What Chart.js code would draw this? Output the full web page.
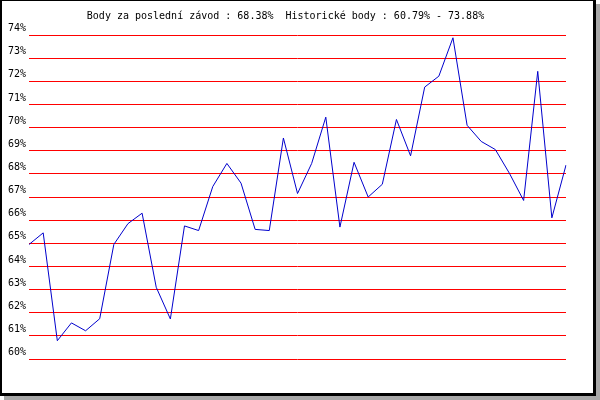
<!DOCTYPE html>
<html>
<head>
<meta charset="utf-8">
<script src="https://cdn.jsdelivr.net/npm/chart.js@4/dist/chart.umd.min.js"></script>
<style>
    html, body { margin: 0; padding: 0; background: #fff; }
    #wrap { position: relative; width: 600px; height: 400px; overflow: hidden; }
    #frame {
        position: absolute; left: 0; top: 0;
        width: 591px; height: 392px;
        border-style: solid; border-color: #000;
        border-width: 1px 3px 3px 2px;
        background: #fff;
        box-shadow: 4px 4px 0 #a8a8a8;
    }
    #chart { position: absolute; left: 0; top: 0; }
</style>
</head>
<body>
<div id="wrap">
    <div id="frame"></div>
    <canvas id="chart" width="600" height="400"></canvas>
</div>
<script>
// --- DATI ---
const titleText = 'Body za poslední závod : 68.38%  Historické body : 60.79% - 73.88%';
const raceLabels = ['1','2','3','4','5','6','7','8','9','10','11','12','13','14','15','16','17','18','19','20',
    '21','22','23','24','25','26','27','28','29','30','31','32','33','34','35','36','37','38','39'];
const bodyValues = [64.95, 65.45, 60.79, 61.56, 61.22, 61.74, 64.95, 65.85, 66.3, 63.1,
    61.73, 65.75, 65.55, 67.45, 68.45, 67.6, 65.6, 65.55, 69.55, 67.15,
    68.45, 70.45, 65.7, 68.5, 67.0, 67.55, 70.35, 68.78, 71.75, 72.22,
    73.88, 70.1, 69.4, 69.05, 68.02, 66.85, 72.43, 66.1, 68.38];
const yMin = 60;
const yMax = 74;

const fontMono = { family: 'DejaVu Sans Mono', size: 10, lineHeight: '13px' };

new Chart(document.getElementById('chart'), {
    type: 'line',
    data: {
        labels: raceLabels,
        datasets: [{
            data: bodyValues,
            borderColor: '#0000cc',
            borderWidth: 1,
            pointRadius: 0,
            tension: 0,
            fill: false
        }]
    },
    options: {
        responsive: false,
        animation: false,
        events: [],
        layout: { padding: { left: 5, right: 34, top: 0, bottom: 41 } },
        plugins: {
            legend: { display: false },
            tooltip: { enabled: false },
            title: {
                display: true,
                text: titleText,
                color: '#000',
                font: { family: 'DejaVu Sans Mono', size: 10, weight: 'normal', lineHeight: 1.2 },
                padding: { top: 10, bottom: 13 }
            }
        },
        scales: {
            x: {
                display: false,
                offset: false
            },
            y: {
                min: yMin,
                max: yMax,
                border: { display: false },
                grid: { color: '#ff0000', lineWidth: 1, drawTicks: false },
                ticks: {
                    stepSize: 1,
                    autoSkip: false,
                    padding: 3,
                    color: '#000',
                    font: fontMono,
                    // etichetta sopra la riga
                    callback: v => [v + '%', '']
                }
            }
        }
    }
});
</script>
</body>
</html>
